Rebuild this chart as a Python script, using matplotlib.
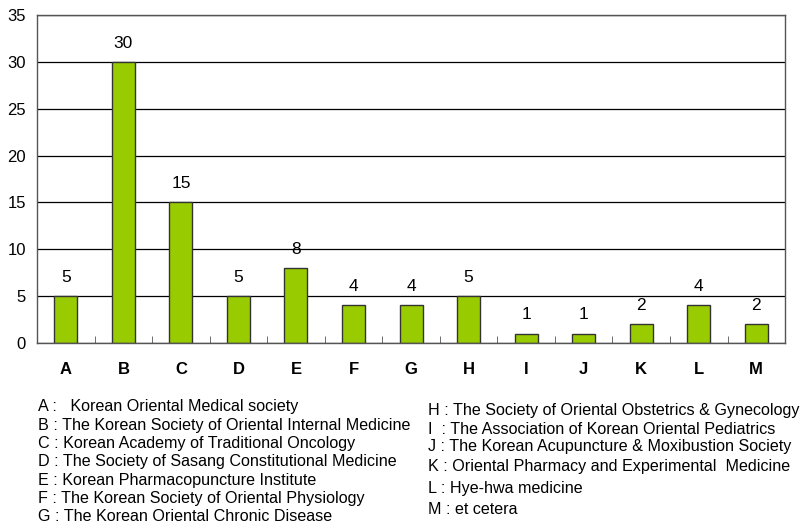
import numpy as np
import matplotlib.pyplot as plt

# 学会别论文数
categories = ["A", "B", "C", "D", "E", "F", "G", "H", "I", "J", "K", "L", "M"]
counts = [5, 30, 15, 5, 8, 4, 4, 5, 1, 1, 2, 4, 2]
yticks = [0, 5, 10, 15, 20, 25, 30, 35]

notes_left = [
    "A :   Korean Oriental Medical society",
    "B : The Korean Society of Oriental Internal Medicine",
    "C : Korean Academy of Traditional Oncology",
    "D : The Society of Sasang Constitutional Medicine",
    "E : Korean Pharmacopuncture Institute",
    "F : The Korean Society of Oriental Physiology",
    "G : The Korean Oriental Chronic Disease",
]
notes_right = [
    "H : The Society of Oriental Obstetrics & Gynecology",
    "I  : The Association of Korean Oriental Pediatrics",
    "J : The Korean Acupuncture & Moxibustion Society",
    "K : Oriental Pharmacy and Experimental  Medicine",
    "L : Hye-hwa medicine",
    "M : et cetera",
]

plt.rcParams['font.family'] = ['Liberation Sans', 'DejaVu Sans']

fig = plt.figure(figsize=(8.06, 5.26), dpi=100)
ax = fig.add_axes([0.046, 0.348, 0.928, 0.6235])

x = np.arange(len(categories))
ax.set_axisbelow(True)
ax.yaxis.grid(True, color='black', linewidth=0.9)
bars = ax.bar(x, counts, width=0.4, color='#99cc00', edgecolor='#333333', linewidth=1.0)
for xi, v in zip(x, counts):
    ax.text(xi, v + 1.2, str(v), ha='center', va='bottom', fontsize=12.5)

ax.set_xlim(-0.5, len(categories) - 0.5)
ax.set_ylim(0, 35)
ax.set_yticks(yticks)
ax.tick_params(axis='y', length=0, labelsize=12, pad=8)
ax.set_xticks(x)
ax.set_xticklabels(categories, fontweight='bold', fontsize=12)
ax.tick_params(axis='x', which='major', length=0, pad=14)
ax.set_xticks(np.arange(0.5, len(categories) - 0.5), minor=True)
ax.tick_params(axis='x', which='minor', direction='in', length=5, color='#555555')
for s in ax.spines.values():
    s.set_color('#555555')
    s.set_linewidth(1.0)

for i, t in enumerate(notes_left):
    fig.text(38 / 806, 1 - (407 + i * 18.3) / 526, t, fontsize=11.6, va='center', ha='left')
right_y = [410, 429, 447, 466, 488, 510]
for t, yy in zip(notes_right, right_y):
    fig.text(428 / 806, 1 - yy / 526, t, fontsize=11.6, va='center', ha='left')

fig.savefig("out.png", dpi=100)
